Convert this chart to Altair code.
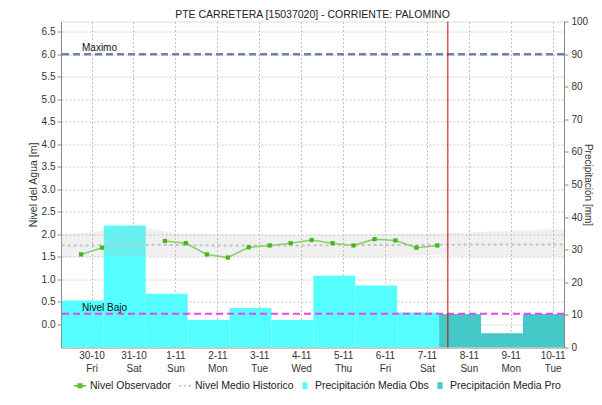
import json
import altair as alt
import pandas as pd

FONT = "Liberation Sans"
TITLE = "PTE CARRETERA [15037020] - CORRIENTE: PALOMINO"

# Observed water level (m), every 12 h
obs_time = ["2020-10-29T18:00:00", "2020-10-30T06:00:00", "2020-10-30T18:00:00", "2020-10-31T06:00:00",
            "2020-10-31T18:00:00", "2020-11-01T06:00:00", "2020-11-01T18:00:00", "2020-11-02T06:00:00",
            "2020-11-02T18:00:00", "2020-11-03T06:00:00", "2020-11-03T18:00:00", "2020-11-04T06:00:00",
            "2020-11-04T18:00:00", "2020-11-05T06:00:00", "2020-11-05T18:00:00", "2020-11-06T06:00:00",
            "2020-11-06T18:00:00", "2020-11-07T06:00:00"]
obs_level = [1.55, 1.70, None, None, 1.85, 1.80, 1.55, 1.48, 1.71, 1.75,
             1.80, 1.87, 1.80, 1.75, 1.89, 1.86, 1.70, 1.75]

# Historic level band (min / max) and median (m)
hist_time = ["2020-10-29T00:00:00", "2020-10-30T00:00:00", "2020-10-31T00:00:00", "2020-11-01T00:00:00",
             "2020-11-02T00:00:00", "2020-11-03T00:00:00", "2020-11-04T00:00:00", "2020-11-05T00:00:00",
             "2020-11-06T00:00:00", "2020-11-07T00:00:00", "2020-11-08T00:00:00", "2020-11-09T00:00:00",
             "2020-11-10T00:00:00", "2020-11-11T00:00:00"]
hist_low = [1.49, 1.49, 1.51, 1.51, 1.50, 1.50, 1.50, 1.50, 1.51, 1.53, 1.51, 1.50, 1.50, 1.50]
hist_high = [2.00, 2.04, 2.20, 2.02, 2.00, 1.99, 1.99, 1.99, 2.00, 2.01, 2.04, 2.08, 2.11, 2.12]
hist_med = [1.75, 1.75, 1.77, 1.76, 1.75, 1.75, 1.75, 1.76, 1.76, 1.76, 1.77, 1.77, 1.77, 1.77]

# Daily precipitation (mm), 07:00 to 07:00
rain_obs_start = ["2020-10-29T07:00:00", "2020-10-30T07:00:00", "2020-10-31T07:00:00", "2020-11-01T07:00:00",
                  "2020-11-02T07:00:00", "2020-11-03T07:00:00", "2020-11-04T07:00:00", "2020-11-05T07:00:00",
                  "2020-11-06T07:00:00"]
rain_obs_end = ["2020-10-30T07:00:00", "2020-10-31T07:00:00", "2020-11-01T07:00:00", "2020-11-02T07:00:00",
                "2020-11-03T07:00:00", "2020-11-04T07:00:00", "2020-11-05T07:00:00", "2020-11-06T07:00:00",
                "2020-11-07T07:00:00"]
rain_obs_mm = [14.4, 37.4, 16.5, 8.4, 12.1, 8.4, 22.0, 19.0, 10.7]

rain_pro_start = ["2020-11-07T07:00:00", "2020-11-08T07:00:00", "2020-11-09T07:00:00"]
rain_pro_end = ["2020-11-08T07:00:00", "2020-11-09T07:00:00", "2020-11-10T07:00:00"]
rain_pro_mm = [10.3, 4.4, 10.3]

ref_names = ["Maximo", "Nivel Bajo"]
ref_levels = [6.0, 0.23]
now_time = ["2020-11-07T12:00:00"]

tick_dates = [(2020, 10, 30), (2020, 10, 31)] + [(2020, 11, d) for d in range(1, 11)]
tick_day = ["30-10", "31-10", "1-11", "2-11", "3-11", "4-11", "5-11", "6-11", "7-11", "8-11", "9-11", "10-11"]
tick_wd = ["Fri", "Sat", "Sun", "Mon", "Tue", "Wed", "Thu", "Fri", "Sat", "Sun", "Mon", "Tue"]
level_ticks = [0.0, 0.5, 1.0, 1.5, 2.0, 2.5, 3.0, 3.5, 4.0, 4.5, 5.0, 5.5, 6.0, 6.5]
rain_ticks = [0, 10, 20, 30, 40, 50, 60, 70, 80, 90, 100]

series_names = ["Nivel Observador", "Nivel Medio Historico", "Precipitación Media Obs", "Precipitación Media Pro"]
series_colors = ["#5cbf2a", "#c4c4c4", "#55ffff", "#44c8c8"]
series_shapes = ["M-1,0H1M-0.3,-0.3H0.3V0.3H-0.3Z",
                 "M-1,0H-0.55M-0.2,0H0.2M0.55,0H1",
                 "M-0.3,-0.45H0.3V0.45H-0.3Z",
                 "M-0.3,-0.45H0.3V0.45H-0.3Z"]

# ---------- data frames ----------
obs_df = pd.DataFrame({"t": obs_time, "nivel": obs_level})
hist_df = pd.DataFrame({"t": hist_time, "lo": hist_low, "hi": hist_high, "med": hist_med})
robs_df = pd.DataFrame({"t0": rain_obs_start, "t1": rain_obs_end, "mm": rain_obs_mm})
rpro_df = pd.DataFrame({"t0": rain_pro_start, "t1": rain_pro_end, "mm": rain_pro_mm})
ref_df = pd.DataFrame({"name": ref_names, "nivel": ref_levels})
now_df = pd.DataFrame({"t": now_time})
leg_df = pd.DataFrame({"serie": series_names, "t": [None] * 4, "v": [None] * 4})
title_df = pd.DataFrame({"txt": [TITLE]})

# ---------- scales / axes ----------
x_dom = [alt.DateTime(year=2020, month=10, date=29, hours=6, minutes=30),
         alt.DateTime(year=2020, month=11, date=10, hours=6, minutes=30)]
x_vals = [alt.DateTime(year=y, month=m, date=d) for (y, m, d) in tick_dates]
idx = "round((datum.value - datetime(2020, 9, 30)) / 86400000)"
label_expr = f"[{json.dumps(tick_day)}[{idx}], {json.dumps(tick_wd)}[{idx}]]"

xscale = alt.Scale(domain=x_dom, nice=False)
xaxis = alt.Axis(values=x_vals, labelExpr=label_expr, labelFont=FONT, labelFontSize=10,
                 labelColor="#333333", labelLineHeight=13, labelPadding=3, labelOverlap=False,
                 ticks=False, domainColor="#555555", domainDash=[1, 1], grid=True,
                 gridColor="#c4c4c4", gridDash=[2, 2], title=None)

yl_scale = alt.Scale(domain=[-0.52, 6.73], nice=False, zero=False)
yl_axis = alt.Axis(orient="left", values=level_ticks, format=".1f", title="Nivel del Agua [m]",
                   titleFont=FONT, titleFontSize=10.5, titleFontWeight="normal", titleColor="#333333",
                   titleX=-28, titleY=163, titleAngle=270, titleAlign="center", titleBaseline="middle",
                   labelFont=FONT, labelFontSize=10, labelColor="#333333",
                   labelPadding=2, tickSize=4, tickColor="#888888", domainColor="#888888",
                   grid=True, gridColor="#c4c4c4", gridDash=[2, 2])

yr_scale = alt.Scale(domain=[0, 100], nice=False, zero=False)
yr_axis = alt.Axis(orient="right", values=rain_ticks, title="Precipitación [mm]",
                   titleFont=FONT, titleFontSize=10, titleFontWeight="normal", titleColor="#333333",
                   titleX=23.5, titleY=163, titleAngle=90, titleAlign="center", titleBaseline="middle",
                   labelFont=FONT, labelFontSize=10, labelColor="#333333",
                   labelPadding=3, tickSize=4, tickColor="#888888", domainColor="#888888", grid=False)


def X(field):
    return alt.X(f"{field}:T", scale=xscale, axis=xaxis, title=None)


def YL(field):
    return alt.Y(f"{field}:Q", scale=yl_scale, axis=yl_axis)


def YR(field):
    return alt.Y(f"{field}:Q", scale=yr_scale, axis=yr_axis)


# ---------- precipitation (right axis) ----------
bars_obs = alt.Chart(robs_df).mark_rect(color=series_colors[2], clip=True).encode(
    x=X("t0"), x2="t1", y=YR("mm"), y2=alt.datum(0))
bars_pro = alt.Chart(rpro_df).mark_rect(color=series_colors[3], clip=True).encode(
    x=X("t0"), x2="t1", y=YR("mm"), y2=alt.datum(0))
right = alt.layer(bars_obs, bars_pro)

# ---------- water level (left axis) ----------
band = alt.Chart(hist_df).mark_area(color="#b4b4b4", opacity=0.2, clip=True).encode(
    x=X("t"), y=YL("lo"), y2="hi")
med = alt.Chart(hist_df).mark_line(color="#c4c4c4", strokeDash=[3, 3], strokeWidth=2, clip=True).encode(
    x=X("t"), y=YL("med"))
obs_line = alt.Chart(obs_df).mark_line(color="#8ccf6a", strokeWidth=1.6,
                                       invalid="break-paths-show-domains").encode(
    x=X("t"), y=YL("nivel"))
obs_pts = alt.Chart(obs_df).mark_point(shape="square", filled=True, size=18, opacity=1,
                                       color="#44b81a").encode(x=X("t"), y=YL("nivel"))
rule_max = alt.Chart(ref_df).transform_filter(alt.datum.name == "Maximo").mark_rule(
    color="#6f7fae", strokeWidth=2.5, strokeDash=[7, 4]).encode(y=YL("nivel"))
rule_low = alt.Chart(ref_df).transform_filter(alt.datum.name == "Nivel Bajo").mark_rule(
    color="#ee44ee", strokeWidth=2, strokeDash=[7, 4]).encode(y=YL("nivel"))
ref_txt = alt.Chart(ref_df).mark_text(align="left", baseline="alphabetic", dy=-3, font=FONT,
                                      fontSize=10, color="#111111").encode(
    x=alt.value(21), y=alt.Y("nivel:Q", scale=yl_scale, axis=yl_axis), text="name:N")
now_rule = alt.Chart(now_df).mark_rule(color="#cc0000", strokeWidth=1).encode(x=X("t"))

# chart title, centred above the plot area
title_txt = alt.Chart(title_df).mark_text(align="center", baseline="alphabetic", font=FONT,
                                          fontSize=10.5, color="#222222").encode(
    x=alt.value(251.5), y=alt.value(-3.5), text="txt:N")

leg = alt.Legend(orient="none", legendX=12, legendY=357, direction="horizontal", columns=4,
                 columnPadding=4, labelFont=FONT, labelFontSize=10.5, labelColor="#222222",
                 labelOffset=3, symbolSize=144, symbolStrokeWidth=1.5, title=None)
legend_layer = alt.Chart(leg_df).mark_point(filled=True, opacity=1).encode(
    x=X("t"), y=YL("v"),
    fill=alt.Fill("serie:N", scale=alt.Scale(domain=series_names, range=series_colors), legend=leg),
    stroke=alt.Stroke("serie:N", scale=alt.Scale(domain=series_names, range=series_colors), legend=leg),
    shape=alt.Shape("serie:N", scale=alt.Scale(domain=series_names, range=series_shapes), legend=leg),
)

left = alt.layer(band, med, obs_line, obs_pts, rule_max, rule_low, ref_txt, now_rule, title_txt,
                 legend_layer)

chart = alt.layer(right, left).resolve_scale(y="independent").properties(
    width=503, height=326,
    padding={"left": 53, "top": 13.5, "right": 30, "bottom": 44},
    autosize=alt.AutoSizeParams(type="none"),
).configure_view(stroke="transparent").configure(background="white")

chart.save("out.html", embed_options={"renderer": "svg", "actions": False})
